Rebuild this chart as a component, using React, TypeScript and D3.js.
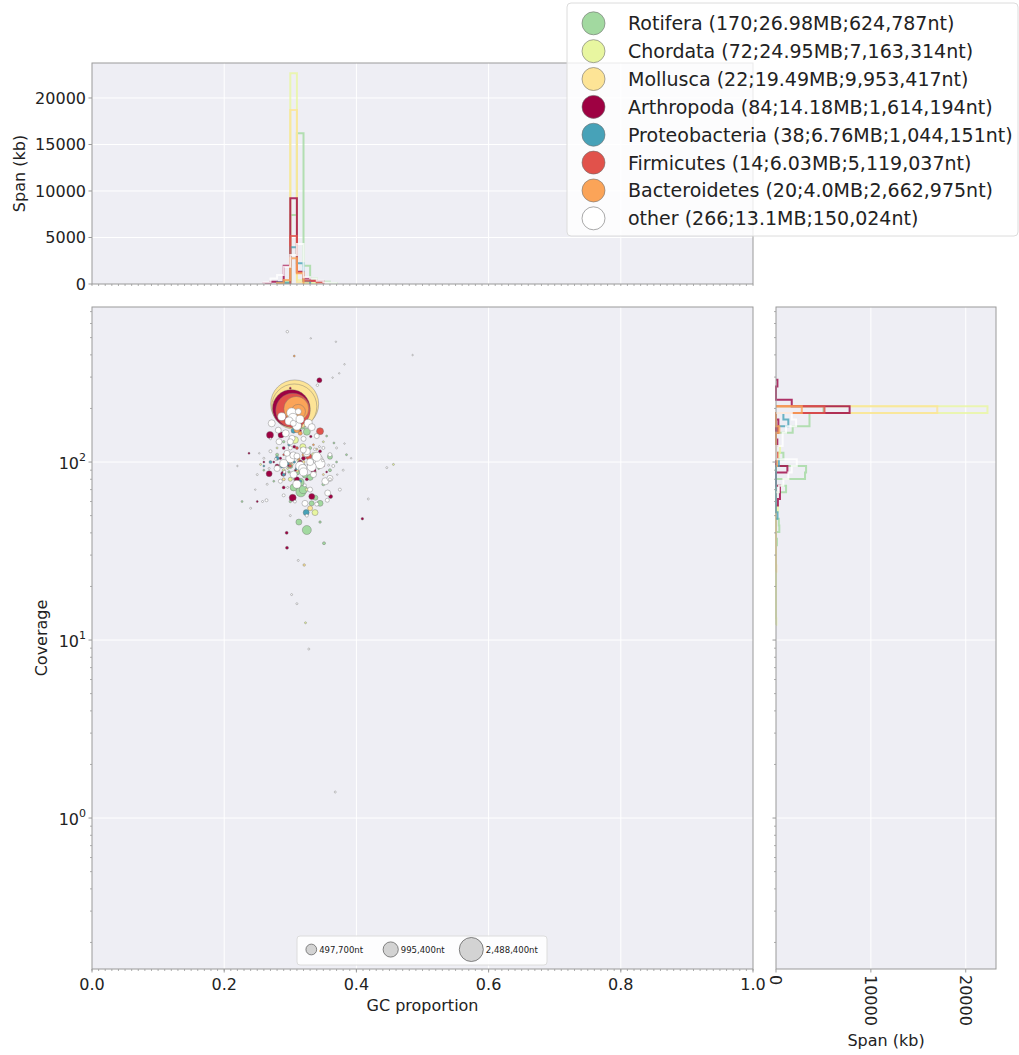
import React from "react";
import * as d3 from "d3";

// [GC proportion, coverage, length in nt]
type Blob = [number, number, number];
// [bin start, span in kb]
type SpanBin = [number, number];

const taxonNames = ["Rotifera", "Chordata", "Mollusca", "Arthropoda", "Proteobacteria", "Firmicutes", "Bacteroidetes", "other"];
const taxonColors = ["#a2d9a0", "#e8f6a0", "#fde496", "#9e0142", "#47a2b8", "#e1524b", "#fba458", "#ffffff"];
const legendLabels = [
  "Rotifera (170;26.98MB;624,787nt)",
  "Chordata (72;24.95MB;7,163,314nt)",
  "Mollusca (22;19.49MB;9,953,417nt)",
  "Arthropoda (84;14.18MB;1,614,194nt)",
  "Proteobacteria (38;6.76MB;1,044,151nt)",
  "Firmicutes (14;6.03MB;5,119,037nt)",
  "Bacteroidetes (20;4.0MB;2,662,975nt)",
  "other (266;13.1MB;150,024nt)",
];
const sizeLegendLengths = [497700, 995400, 2488400];
const sizeLegendLabels = ["497,700nt", "995,400nt", "2,488,400nt"];
const gcTicks = [0, 0.2, 0.4, 0.6, 0.8, 1.0];
const topSpanTicks = [0, 5000, 10000, 15000, 20000];
const sideSpanTicks = [0, 10000, 20000];
const coverageTicks = [1, 10, 100];

const rotiferaBlobs: Blob[] = [
  [0.306, 205, 1100000], [0.31, 182, 900000], [0.312, 172, 800000],
  [0.316, 68, 434000], [0.325, 41.5, 352000], [0.3147, 77, 278000], [0.3197, 70, 278000],
  [0.325, 148, 213000], [0.305, 72, 213000], [0.318, 160, 213000],
  [0.313, 46, 156000], [0.345, 58.6, 156000], [0.31, 88, 156000], [0.33, 82, 156000], [0.312, 186, 156000],
  [0.36, 107, 109000], [0.3323, 58.6, 109000], [0.30, 95, 109000], [0.338, 63, 109000],
  [0.29, 100, 70000], [0.32, 95, 70000], [0.351, 35, 39000], [0.36, 90, 39000], [0.28, 110, 39000],
  [0.33, 120, 39000], [0.35, 75, 39000], [0.345, 46, 27000], [0.29, 130, 27000], [0.30, 60, 27000],
  [0.34, 105, 27000], [0.227, 60, 17000], [0.37, 100, 17000], [0.26, 90, 17000], [0.385, 110, 17000],
  [0.355, 140, 17000], [0.275, 78, 17000], [0.322, 84, 109000], [0.308, 80, 70000],
  [0.298, 88, 27000], [0.343, 92, 17000], [0.285, 96, 17000], [0.366, 128, 17000],
];

const chordataBlobs: Blob[] = [
  [0.305, 206, 7163314], [0.307, 203, 7000000], [0.306, 208, 5500000], [0.304, 200, 2600000],
  [0.31, 170, 278000], [0.307, 133, 213000], [0.319, 122, 156000], [0.3374, 52, 156000],
  [0.30, 80, 70000], [0.335, 110, 70000], [0.29, 90, 39000], [0.345, 100, 39000], [0.325, 70, 39000],
  [0.255, 97, 17000], [0.456, 97, 17000], [0.323, 12.5, 17000], [0.35, 130, 17000], [0.28, 120, 17000],
  [0.312, 102, 27000], [0.296, 92, 17000], [0.338, 88, 17000],
];

const molluscaBlobs: Blob[] = [
  [0.3066, 212, 9953417], [0.306, 205, 8800000],
  [0.33, 55, 109000], [0.31, 90, 70000], [0.29, 80, 39000], [0.32, 100, 39000],
  [0.35, 85, 17000], [0.321, 26.4, 27000], [0.34, 118, 17000], [0.303, 97, 17000],
];

const arthropodaBlobs: Blob[] = [
  [0.3015, 200, 6100000], [0.302, 214, 1614194], [0.304, 195, 1660000],
  [0.2693, 142, 213000], [0.3036, 63, 213000], [0.286, 142, 156000], [0.268, 86, 156000],
  [0.3325, 64, 156000], [0.2894, 86, 109000], [0.31, 80, 109000], [0.335, 90, 109000],
  [0.344, 288, 109000], [0.361, 64, 70000], [0.28, 95, 70000], [0.32, 105, 70000],
  [0.315, 100, 70000], [0.306, 122, 39000], [0.29, 72, 39000], [0.295, 33, 39000],
  [0.2945, 40, 39000], [0.30, 110, 39000], [0.29, 120, 39000], [0.325, 80, 39000],
  [0.345, 115, 39000], [0.331, 139, 27000], [0.409, 48, 27000], [0.2375, 112, 17000],
  [0.26, 100, 17000], [0.35, 95, 17000], [0.30, 260, 17000], [0.25, 60, 17000],
  [0.315, 150, 27000], [0.285, 105, 27000], [0.297, 96, 27000], [0.308, 90, 17000],
  [0.275, 100, 17000], [0.327, 97, 17000], [0.355, 88, 17000],
];

const proteobacteriaBlobs: Blob[] = [
  [0.324, 52, 156000], [0.305, 150, 109000], [0.28, 105, 70000], [0.295, 98, 70000],
  [0.30, 190, 70000], [0.31, 92, 39000], [0.27, 100, 39000], [0.32, 115, 39000],
  [0.29, 85, 39000], [0.315, 78, 39000], [0.335, 102, 17000], [0.26, 95, 17000],
  [0.298, 125, 27000], [0.318, 178, 39000], [0.287, 94, 27000], [0.306, 100, 27000],
];

const firmicutesBlobs: Blob[] = [
  [0.304, 195, 5119037], [0.345, 149, 213000], [0.328, 107, 156000],
  [0.315, 160, 70000], [0.30, 95, 39000], [0.31, 120, 39000], [0.33, 95, 39000], [0.29, 110, 17000],
];

const bacteroidetesBlobs: Blob[] = [
  [0.309, 199, 2662975], [0.312, 192, 900000], [0.31, 152, 156000], [0.315, 145, 70000],
  [0.32, 110, 39000], [0.30, 100, 39000], [0.29, 95, 17000], [0.335, 125, 17000], [0.306, 394, 17000],
  [0.313, 104, 27000],
];

const otherBlobs: Blob[] = [
  [0.3021, 189, 434000], [0.304, 176, 434000], [0.342, 103, 434000], [0.3449, 98, 434000],
  [0.287, 180, 278000], [0.3147, 174, 278000], [0.3272, 165, 278000], [0.298, 170, 278000],
  [0.31, 160, 352000], [0.3323, 94, 352000], [0.340, 107, 352000], [0.300, 105, 352000],
  [0.315, 95, 352000], [0.3187, 92, 278000], [0.29, 98, 278000], [0.32, 88, 278000],
  [0.2719, 165, 213000], [0.3324, 157, 213000], [0.293, 145, 213000], [0.3046, 109, 213000],
  [0.3248, 112, 213000], [0.305, 85, 213000], [0.33, 100, 213000], [0.325, 115, 213000],
  [0.31, 75, 278000], [0.353, 78, 213000], [0.3045, 165, 156000], [0.3121, 192, 156000],
  [0.2818, 151, 156000], [0.3026, 136, 156000], [0.283, 130, 156000], [0.3197, 117, 156000],
  [0.36, 81, 156000], [0.3566, 67, 156000], [0.3222, 58.6, 156000], [0.28, 92, 156000],
  [0.295, 112, 156000], [0.335, 85, 156000], [0.3, 130, 156000], [0.31, 108, 156000],
  [0.34, 140, 109000], [0.32, 135, 109000], [0.33, 70, 109000], [0.356, 61, 70000],
  [0.36, 110, 70000], [0.285, 78, 70000], [0.3, 120, 70000], [0.34, 58, 70000],
  [0.264, 61, 39000], [0.307, 60, 39000], [0.27, 115, 39000], [0.365, 95, 39000],
  [0.375, 70, 39000], [0.35, 120, 39000], [0.29, 65, 39000], [0.325, 50, 39000],
  [0.36, 80, 39000], [0.2955, 540, 27000], [0.341, 270, 27000], [0.258, 60, 17000],
  [0.344, 122, 17000], [0.312, 28, 17000], [0.302, 18, 17000], [0.310, 16, 17000],
  [0.328, 8.9, 17000], [0.368, 1.4, 17000], [0.418, 62, 17000], [0.446, 93, 17000],
  [0.25, 85, 17000], [0.26, 105, 17000], [0.3, 50, 17000], [0.37, 120, 17000],
  [0.24, 55, 17000], [0.38, 90, 17000], [0.265, 75, 17000], [0.331, 495, 9800],
  [0.369, 474, 9800], [0.485, 399, 9800], [0.382, 354, 9800], [0.374, 315, 9800],
  [0.364, 298, 9800], [0.382, 127, 9800], [0.22, 95, 9800], [0.27, 135, 17000],
  [0.278, 104, 27000], [0.291, 88, 39000], [0.337, 118, 27000], [0.349, 102, 27000],
  [0.268, 92, 17000], [0.358, 96, 17000], [0.322, 74, 39000], [0.296, 72, 17000],
  [0.253, 112, 9800], [0.371, 85, 9800], [0.247, 70, 9800], [0.392, 105, 9800],
];

const blobsByTaxon = [
  rotiferaBlobs, chordataBlobs, molluscaBlobs, arthropodaBlobs,
  proteobacteriaBlobs, firmicutesBlobs, bacteroidetesBlobs, otherBlobs,
];

// span per GC bin (bin width 0.01), in kb
const rotiferaGcSpan: SpanBin[] = [[0.28, 100], [0.29, 300], [0.30, 7420], [0.31, 16200], [0.32, 1970], [0.33, 600], [0.34, 250], [0.35, 250], [0.36, 100]];
const chordataGcSpan: SpanBin[] = [[0.29, 100], [0.30, 22650], [0.31, 400], [0.32, 150], [0.33, 100]];
const molluscaGcSpan: SpanBin[] = [[0.29, 100], [0.30, 18700], [0.31, 200], [0.32, 100]];
const arthropodaGcSpan: SpanBin[] = [[0.26, 100], [0.27, 250], [0.28, 200], [0.29, 1970], [0.30, 9210], [0.31, 1320], [0.32, 600], [0.33, 360], [0.34, 300]];
const proteobacteriaGcSpan: SpanBin[] = [[0.28, 150], [0.29, 100], [0.30, 3940], [0.31, 2220], [0.32, 300]];
const firmicutesGcSpan: SpanBin[] = [[0.30, 5160], [0.31, 1250], [0.32, 360], [0.33, 360], [0.34, 150]];
const bacteroidetesGcSpan: SpanBin[] = [[0.28, 100], [0.29, 430], [0.30, 2760], [0.31, 1150]];
const otherGcSpan: SpanBin[] = [[0.26, 150], [0.27, 600], [0.28, 960], [0.29, 1860], [0.30, 3130], [0.31, 4300], [0.32, 720], [0.33, 600], [0.34, 360], [0.35, 150], [0.36, 100]];

const gcSpanByTaxon = [
  rotiferaGcSpan, chordataGcSpan, molluscaGcSpan, arthropodaGcSpan,
  proteobacteriaGcSpan, firmicutesGcSpan, bacteroidetesGcSpan, otherGcSpan,
];

// span per log-coverage bin, keyed by a coverage inside the bin, in kb
const rotiferaCovSpan: SpanBin[] = [[197, 5000], [181, 3530], [166, 3530], [152, 1760], [108, 780], [91, 3170], [84, 3060], [70, 1060], [46, 300], [41, 350], [35, 100]];
const chordataCovSpan: SpanBin[] = [[197, 22290], [118, 420], [108, 300], [53, 200], [12.5, 30]];
const molluscaCovSpan: SpanBin[] = [[197, 17000], [152, 70], [26, 30]];
const arthropodaCovSpan: SpanBin[] = [[288, 150], [214, 1660], [197, 7760], [166, 250], [128, 140], [91, 1200], [70, 420], [65, 420], [62, 200]];
const proteobacteriaCovSpan: SpanBin[] = [[181, 780], [166, 1300], [152, 200], [99, 300], [52, 160]];
const firmicutesCovSpan: SpanBin[] = [[197, 5110], [149, 200], [107, 150]];
const bacteroidetesCovSpan: SpanBin[] = [[197, 2720], [152, 350], [99, 100]];
const otherCovSpan: SpanBin[] = [[181, 1660], [166, 2120], [152, 1060], [140, 700], [128, 700], [99, 2190], [91, 1660], [84, 1300], [77, 780], [70, 300]];

const covSpanByTaxon = [
  rotiferaCovSpan, chordataCovSpan, molluscaCovSpan, arthropodaCovSpan,
  proteobacteriaCovSpan, firmicutesCovSpan, bacteroidetesCovSpan, otherCovSpan,
];

const FONT = "DejaVu Sans";
const PANEL_BG = "#eeeef4";
const SPINE = "#9a9a9a";
const NBINS = 100;

const main = { x0: 92, x1: 753, y0: 307, y1: 969 };
const topPanel = { y0: 63, y1: 284 };
const side = { x0: 776, x1: 996 };

const COV_MIN = 0.1419;
const COV_MAX = 742.9;

const x = d3.scaleLinear().domain([0, 1]).range([main.x0, main.x1]);
const y = d3.scaleLog().domain([COV_MIN, COV_MAX]).range([main.y1, main.y0]);
const hy = d3.scaleLinear().domain([0, 23763]).range([topPanel.y1, topPanel.y0]);
const hx = d3.scaleLinear().domain([0, 23190]).range([side.x0, side.x1]);
const r = d3.scaleSqrt().domain([0, 2488400]).range([0, 12]);

const logLo = Math.log10(COV_MIN);
const logHi = Math.log10(COV_MAX);
const covEdge = (i: number) => Math.pow(10, logLo + (i * (logHi - logLo)) / NBINS);
const covBin = (c: number) => Math.floor(((Math.log10(c) - logLo) / (logHi - logLo)) * NBINS);

const line = d3.line();

function gcStepPath(bins: SpanBin[]): string {
  const vals = new Array(NBINS).fill(0);
  bins.forEach(([g, kb]) => { vals[Math.round(g * 100)] += kb; });
  const idx = vals.map((v, i) => (v > 0 ? i : -1)).filter((i) => i >= 0);
  const first = idx[0], last = idx[idx.length - 1];
  const pts: [number, number][] = [[x(first / NBINS), hy(0)]];
  for (let i = first; i <= last; i++) {
    pts.push([x(i / NBINS), hy(vals[i])], [x((i + 1) / NBINS), hy(vals[i])]);
  }
  pts.push([x((last + 1) / NBINS), hy(0)]);
  return line(pts) || "";
}

function covStepPath(bins: SpanBin[]): string {
  const vals = new Array(NBINS).fill(0);
  bins.forEach(([c, kb]) => { vals[covBin(c)] += kb; });
  const idx = vals.map((v, i) => (v > 0 ? i : -1)).filter((i) => i >= 0);
  const first = idx[0], last = idx[idx.length - 1];
  const pts: [number, number][] = [[hx(0), y(covEdge(first))]];
  for (let i = first; i <= last; i++) {
    pts.push([hx(vals[i]), y(covEdge(i))], [hx(vals[i]), y(covEdge(i + 1))]);
  }
  pts.push([hx(0), y(covEdge(last + 1))]);
  return line(pts) || "";
}

const minorLogTicks: number[] = [];
for (let d = -1; d <= 2; d++) {
  for (let k = 2; k <= 9; k++) {
    const v = k * Math.pow(10, d);
    if (v >= COV_MIN && v <= COV_MAX) minorLogTicks.push(v);
  }
}
const minorGcTicks = d3.range(0, 101).map((i) => i / 100);

const tickText = { fontFamily: FONT, fontSize: 16, fill: "#222" } as const;

function Pow10Label({ exp, yPos, xRight }: { exp: number; yPos: number; xRight: number }) {
  return (
    <text x={xRight} y={yPos + 7} textAnchor="end" {...tickText}>
      <tspan>10</tspan>
      <tspan dy={-8} fontSize={11}>{exp}</tspan>
    </text>
  );
}

export default function App() {
  return (
    <svg width={1019} height={1055} style={{ position: "absolute", left: 0, top: 0, background: "#fff" }}>
      {/* ---------- top GC histogram ---------- */}
      <rect x={main.x0} y={topPanel.y0} width={main.x1 - main.x0} height={topPanel.y1 - topPanel.y0} fill={PANEL_BG} />
      {gcTicks.slice(1, -1).map((t) => (
        <line key={"tg" + t} x1={x(t)} x2={x(t)} y1={topPanel.y0} y2={topPanel.y1} stroke="#fff" strokeWidth={1} />
      ))}
      {topSpanTicks.slice(1).map((t) => (
        <line key={"th" + t} x1={main.x0} x2={main.x1} y1={hy(t)} y2={hy(t)} stroke="#fff" strokeWidth={1} />
      ))}
      {gcSpanByTaxon.map((bins, i) => (
        <path key={"gh" + i} d={gcStepPath(bins)} fill="none" stroke={taxonColors[i]} strokeWidth={2} strokeOpacity={0.8} />
      ))}
      <rect x={main.x0} y={topPanel.y0} width={main.x1 - main.x0} height={topPanel.y1 - topPanel.y0} fill="none" stroke={SPINE} strokeWidth={1} />
      {minorGcTicks.map((t) => (
        <line key={"tm" + t} x1={x(t)} x2={x(t)} y1={topPanel.y1} y2={topPanel.y1 + 2} stroke={SPINE} strokeWidth={0.8} />
      ))}
      {topSpanTicks.map((t) => (
        <g key={"tyl" + t}>
          <line x1={main.x0 - 3.5} x2={main.x0} y1={hy(t)} y2={hy(t)} stroke={SPINE} />
          <text x={86} y={hy(t) + 6} textAnchor="end" {...tickText}>{t}</text>
        </g>
      ))}
      <text transform={`translate(25,${(topPanel.y0 + topPanel.y1) / 2}) rotate(-90)`} textAnchor="middle" {...tickText}>Span (kb)</text>

      {/* ---------- main blob panel ---------- */}
      <rect x={main.x0} y={main.y0} width={main.x1 - main.x0} height={main.y1 - main.y0} fill={PANEL_BG} />
      {gcTicks.slice(1, -1).map((t) => (
        <line key={"mg" + t} x1={x(t)} x2={x(t)} y1={main.y0} y2={main.y1} stroke="#fff" strokeWidth={1} />
      ))}
      {coverageTicks.map((t) => (
        <line key={"mc" + t} x1={main.x0} x2={main.x1} y1={y(t)} y2={y(t)} stroke="#fff" strokeWidth={1} />
      ))}
      {blobsByTaxon.map((blobs, i) => (
        <g key={"b" + i}>
          {[...blobs].sort((a, b) => b[2] - a[2]).map((b, j) => (
            <circle key={j} cx={x(b[0])} cy={y(b[1])} r={r(b[2])} fill={taxonColors[i]} stroke="#6f6f6f" strokeWidth={0.5} strokeOpacity={0.8} />
          ))}
        </g>
      ))}
      <rect x={main.x0} y={main.y0} width={main.x1 - main.x0} height={main.y1 - main.y0} fill="none" stroke={SPINE} strokeWidth={1} />
      {minorGcTicks.map((t) => (
        <line key={"mm" + t} x1={x(t)} x2={x(t)} y1={main.y1} y2={main.y1 + 2} stroke={SPINE} strokeWidth={0.8} />
      ))}
      {gcTicks.map((t) => (
        <g key={"mx" + t}>
          <line x1={x(t)} x2={x(t)} y1={main.y1} y2={main.y1 + 3.5} stroke={SPINE} />
          <text x={x(t)} y={990} textAnchor="middle" {...tickText}>{t.toFixed(1)}</text>
        </g>
      ))}
      {minorLogTicks.map((t) => (
        <line key={"ml" + t} x1={main.x0 - 2} x2={main.x0} y1={y(t)} y2={y(t)} stroke={SPINE} strokeWidth={0.8} />
      ))}
      {coverageTicks.map((t) => (
        <g key={"my" + t}>
          <line x1={main.x0 - 3.5} x2={main.x0} y1={y(t)} y2={y(t)} stroke={SPINE} />
          <Pow10Label exp={Math.round(Math.log10(t))} yPos={y(t)} xRight={86} />
        </g>
      ))}
      <text x={(main.x0 + main.x1) / 2} y={1011} textAnchor="middle" {...tickText}>GC proportion</text>
      <text transform={`translate(47,${(main.y0 + main.y1) / 2}) rotate(-90)`} textAnchor="middle" {...tickText}>Coverage</text>

      {/* size legend */}
      <rect x={297} y={936} width={250} height={29} rx={3} fill="#ffffff" fillOpacity={0.85} stroke="#dcdcdc" />
      {sizeLegendLengths.map((len, i) => {
        const cx = [311.3, 390.7, 471.3][i];
        return (
          <g key={"sl" + i}>
            <circle cx={cx} cy={949.5} r={r(len)} fill="#d3d3d3" stroke="#555" strokeWidth={0.7} />
            <text x={cx + r(len) + 2.5} y={952.5} fontFamily={FONT} fontSize={8.5} fill="#222">{sizeLegendLabels[i]}</text>
          </g>
        );
      })}

      {/* ---------- side coverage histogram ---------- */}
      <rect x={side.x0} y={main.y0} width={side.x1 - side.x0} height={main.y1 - main.y0} fill={PANEL_BG} />
      {sideSpanTicks.slice(1).map((t) => (
        <line key={"sg" + t} x1={hx(t)} x2={hx(t)} y1={main.y0} y2={main.y1} stroke="#fff" strokeWidth={1} />
      ))}
      {coverageTicks.map((t) => (
        <line key={"sc" + t} x1={side.x0} x2={side.x1} y1={y(t)} y2={y(t)} stroke="#fff" strokeWidth={1} />
      ))}
      {covSpanByTaxon.map((bins, i) => (
        <path key={"ch" + i} d={covStepPath(bins)} fill="none" stroke={taxonColors[i]} strokeWidth={2} strokeOpacity={0.8} />
      ))}
      <rect x={side.x0} y={main.y0} width={side.x1 - side.x0} height={main.y1 - main.y0} fill="none" stroke={SPINE} strokeWidth={1} />
      {minorLogTicks.map((t) => (
        <line key={"sl" + t} x1={side.x0 - 2} x2={side.x0} y1={y(t)} y2={y(t)} stroke={SPINE} strokeWidth={0.8} />
      ))}
      {coverageTicks.map((t) => (
        <line key={"sy" + t} x1={side.x0 - 3.5} x2={side.x0} y1={y(t)} y2={y(t)} stroke={SPINE} />
      ))}
      {sideSpanTicks.map((t) => (
        <g key={"sx" + t}>
          <line x1={hx(t)} x2={hx(t)} y1={main.y1} y2={main.y1 + 3.5} stroke={SPINE} />
          <text transform={`translate(${hx(t)},${975}) rotate(90)`} dy="0.35em" textAnchor="start" {...tickText}>{t}</text>
        </g>
      ))}
      <text x={(side.x0 + side.x1) / 2} y={1046} textAnchor="middle" {...tickText}>Span (kb)</text>

      {/* ---------- taxon legend ---------- */}
      <rect x={567} y={3} width={451} height={233} rx={4} fill="#ffffff" fillOpacity={0.8} stroke="#dcdcdc" />
      {legendLabels.map((lab, i) => {
        const cy = 23.3 + i * 27.86;
        return (
          <g key={"lg" + i}>
            <circle cx={593.5} cy={cy} r={11.5} fill={taxonColors[i]} stroke="#6f6f6f" strokeWidth={0.6} />
            <text x={628} y={cy + 7} fontFamily={FONT} fontSize={19} fill="#222">{lab}</text>
          </g>
        );
      })}
    </svg>
  );
}
